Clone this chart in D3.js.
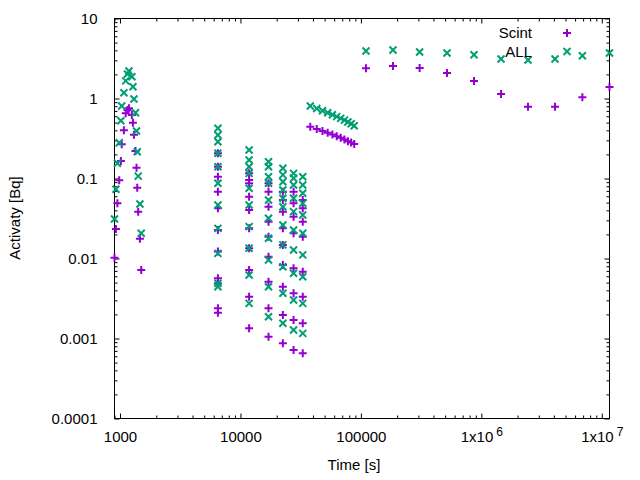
<!DOCTYPE html>
<html>
<head>
<meta charset="utf-8">
<script src="https://cdn.jsdelivr.net/npm/d3@7"></script>
<style>
	body { margin: 0; background: #fff; }
	text { font-family: 'Liberation Sans', Arial, sans-serif; font-size: 15px; fill: #000; }
</style>
</head>
<body>
<script>
// build-up and decay right after irradiation
	var riseTime = [900, 925, 951, 985, 1017, 1033, 1077, 1115, 1154, 1186, 1255, 1280, 1305, 1345, 1371, 1390, 1416, 1463, 1500],
		riseScint = [0.0102, 0.0234, 0.049, 0.095, 0.166, 0.268, 0.400, 0.653, 0.718, 0.754, 0.622, 0.498, 0.353, 0.221, 0.136, 0.0767, 0.0385, 0.0177, 0.0072],
		riseAll = [0.0312, 0.0733, 0.155, 0.280, 0.528, 0.806, 1.18, 1.66, 2.02, 2.21, 1.87, 1.40, 0.986, 0.665, 0.393, 0.216, 0.107, 0.048, 0.0207];

// six counting series, several nuclides each
	var seriesTime = [6500, 11800, 17100, 22500, 27600, 32900];
	var seriesScint = [
		[0.207, 0.140, 0.105, 0.0684, 0.0424, 0.0227, 0.0122, 0.00566, 0.0049, 0.00238, 0.0021],
		[0.116, 0.0958, 0.0871, 0.0592, 0.0404, 0.0238, 0.0134, 0.00718, 0.00333, 0.00134],
		[0.0871, 0.0684, 0.0444, 0.0288, 0.0187, 0.0105, 0.00513, 0.00238, 0.00105],
		[0.0684, 0.0538, 0.0385, 0.0238, 0.0148, 0.00829, 0.00444, 0.00197, 0.00087],
		[0.0684, 0.049, 0.0333, 0.0207, 0.00754, 0.00367, 0.0017, 0.000718],
		[0.0538, 0.0424, 0.0288, 0.0187, 0.00684, 0.00333, 0.00155, 0.000653]
	];
	var seriesAll = [
		[0.424, 0.350, 0.288, 0.207, 0.140, 0.0871, 0.0467, 0.0238, 0.0116, 0.0049, 0.00444],
		[0.227, 0.170, 0.140, 0.116, 0.0754, 0.0467, 0.0250, 0.0134, 0.00622, 0.00275],
		[0.162, 0.140, 0.105, 0.0871, 0.0538, 0.0318, 0.0179, 0.00958, 0.00444, 0.00187],
		[0.134, 0.111, 0.0912, 0.0718, 0.0566, 0.0444, 0.0262, 0.0148, 0.0079, 0.00367, 0.00155],
		[0.116, 0.1006, 0.0829, 0.0566, 0.0385, 0.0227, 0.0128, 0.00653, 0.00303, 0.00128],
		[0.105, 0.0829, 0.0653, 0.049, 0.035, 0.0207, 0.0111, 0.00592, 0.00275, 0.00116]
	];

// long count
	var longTime = [38000, 43000, 48000, 53000, 58000, 63000, 68000, 73000, 78000, 83000, 88000],
		longScint = [0.444, 0.416, 0.392, 0.373, 0.355, 0.338, 0.322, 0.307, 0.293, 0.281, 0.270],
		longAll = [0.806, 0.750, 0.702, 0.663, 0.626, 0.594, 0.564, 0.536, 0.508, 0.483, 0.457];

// late measurements
	var lateTime = [110200, 184700, 307300, 518900, 869000, 1457000, 2440000, 4090000, 6900000, 11590000],
		lateScint = [2.39, 2.55, 2.41, 2.08, 1.66, 1.14, 0.79, 0.79, 1.04, 1.39],
		lateAll = [3.93, 4.04, 3.81, 3.70, 3.53, 3.12, 3.03, 3.12, 3.43, 3.70];

// tick labels
	var xTicks = [1000, 10000, 100000, 1e6, 1e7],
		xTickLabels = ['1000', '10000', '100000', '1x10^6', '1x10^7'],
		yTicks = [1e-4, 1e-3, 1e-2, 1e-1, 1, 10],
		yTickLabels = ['0.0001', '0.001', '0.01', '0.1', '1', '10'];

// parameters for layout
	var width = 640,
		height = 480,
		plotLeft = 114.5,
		plotRight = 609.5,
		plotTop = 18.5,
		plotBottom = 418.5,
		purple = '#9400d3',
		green = '#009e73';

// gather points
	function pairs(t, v) {
		return v.map(function(d, i) { return [t[i], d]; });
	}
	var scintPts = pairs(riseTime, riseScint)
		.concat(d3.merge(seriesScint.map(function(col, i) {
			return col.map(function(d) { return [seriesTime[i], d]; });
		})))
		.concat(pairs(longTime, longScint))
		.concat(pairs(lateTime, lateScint));
	var allPts = pairs(riseTime, riseAll)
		.concat(d3.merge(seriesAll.map(function(col, i) {
			return col.map(function(d) { return [seriesTime[i], d]; });
		})))
		.concat(pairs(longTime, longAll))
		.concat(pairs(lateTime, lateAll));

// scales
	var x = d3.scaleLog()
		.domain([900, 11590000])
		.range([plotLeft, plotRight]);
	var y = d3.scaleLog()
		.domain([1e-4, 10])
		.range([plotBottom, plotTop]);

	var svg = d3.select('body').append('svg')
		.attr('width', width)
		.attr('height', height)
		.style('background-color', '#ffffff');

// minor ticks, all four sides
	var xMinor = x.ticks().filter(function(d) { return xTicks.indexOf(d) < 0; }),
		yMinor = y.ticks().filter(function(d) { return yTicks.indexOf(d) < 0; });

	function clean(g) {
		g.select('.domain').remove();
		g.selectAll('line').attr('stroke', '#000');
	}

	svg.append('g')
		.attr('transform', 'translate(0,' + plotBottom + ')')
		.call(d3.axisBottom(x).tickValues(xMinor).tickSize(-3).tickFormat(''))
		.call(clean);
	svg.append('g')
		.attr('transform', 'translate(0,' + plotTop + ')')
		.call(d3.axisTop(x).tickValues(xMinor).tickSize(-3).tickFormat(''))
		.call(clean);
	svg.append('g')
		.attr('transform', 'translate(' + plotLeft + ',0)')
		.call(d3.axisLeft(y).tickValues(yMinor).tickSize(-3).tickFormat(''))
		.call(clean);
	svg.append('g')
		.attr('transform', 'translate(' + plotRight + ',0)')
		.call(d3.axisRight(y).tickValues(yMinor).tickSize(-3).tickFormat(''))
		.call(clean);

// major ticks with labels
	var xAxis = svg.append('g')
		.attr('transform', 'translate(0,' + plotBottom + ')')
		.call(d3.axisBottom(x).tickValues(xTicks).tickSize(-5).tickPadding(13)
			.tickFormat(function(d, i) { return xTickLabels[i]; }))
		.call(clean);
	svg.append('g')
		.attr('transform', 'translate(0,' + plotTop + ')')
		.call(d3.axisTop(x).tickValues(xTicks).tickSize(-5).tickFormat(''))
		.call(clean);
	svg.append('g')
		.attr('transform', 'translate(' + plotLeft + ',0)')
		.call(d3.axisLeft(y).tickValues(yTicks).tickSize(-5).tickPadding(17)
			.tickFormat(function(d, i) { return yTickLabels[i]; }))
		.call(clean);
	svg.append('g')
		.attr('transform', 'translate(' + plotRight + ',0)')
		.call(d3.axisRight(y).tickValues(yTicks).tickSize(-5).tickFormat(''))
		.call(clean);

// superscript exponents on the x labels
	xAxis.selectAll('text').each(function() {
		var t = d3.select(this),
			s = t.text();
		if (s.indexOf('^') < 0) return;
		var parts = s.split('^');
		t.text('');
		t.append('tspan').text(parts[0]);
		t.append('tspan')
			.attr('dx', 3)
			.attr('dy', -6)
			.style('font-size', '12px')
			.text(parts[1]);
	});

// border
	svg.append('rect')
		.attr('x', plotLeft)
		.attr('y', plotTop)
		.attr('width', plotRight - plotLeft)
		.attr('height', plotBottom - plotTop)
		.attr('fill', 'none')
		.attr('stroke', '#000')
		.attr('stroke-width', 1);

// points
	var plus = 'M-4,0H4M0,-4V4',
		cross = 'M-3.5,-3.5L3.5,3.5M-3.5,3.5L3.5,-3.5';

	svg.append('g').selectAll('path')
		.data(scintPts)
	  .enter().append('path')
		.attr('transform', function(d) { return 'translate(' + x(d[0]) + ',' + y(d[1]) + ')'; })
		.attr('d', plus)
		.attr('stroke', purple)
		.attr('stroke-width', 2)
		.attr('fill', 'none');

	svg.append('g').selectAll('path')
		.data(allPts)
	  .enter().append('path')
		.attr('transform', function(d) { return 'translate(' + x(d[0]) + ',' + y(d[1]) + ')'; })
		.attr('d', cross)
		.attr('stroke', green)
		.attr('stroke-width', 2)
		.attr('fill', 'none');

// axis titles
	svg.append('text')
		.attr('x', 354)
		.attr('y', 470)
		.attr('text-anchor', 'middle')
		.text('Time [s]');
	svg.append('text')
		.attr('transform', 'translate(20,218) rotate(-90)')
		.attr('text-anchor', 'middle')
		.text('Activaty [Bq]');

// key
	var key = [['Scint', plus, purple], ['ALL', cross, green]];
	var keyRow = svg.append('g').selectAll('g')
		.data(key)
	  .enter().append('g')
		.attr('transform', function(d, i) { return 'translate(0,' + (33 + i * 18.5) + ')'; });
	keyRow.append('text')
		.attr('x', 532)
		.attr('dy', '0.35em')
		.attr('text-anchor', 'end')
		.text(function(d) { return d[0]; });
	keyRow.append('path')
		.attr('transform', 'translate(567,0)')
		.attr('d', function(d) { return d[1]; })
		.attr('stroke', function(d) { return d[2]; })
		.attr('stroke-width', 2)
		.attr('fill', 'none');
</script>
</body>
</html>
